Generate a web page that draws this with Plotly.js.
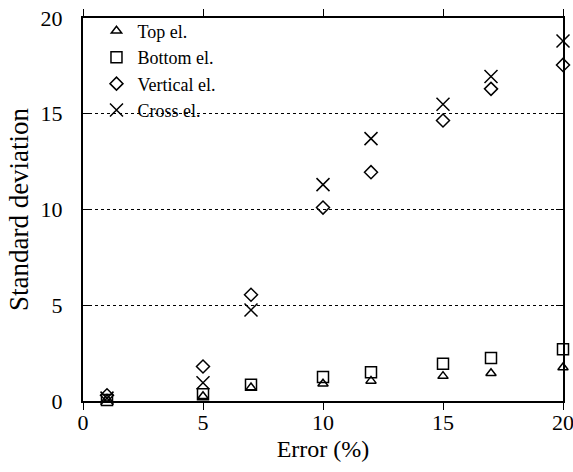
<!DOCTYPE html>
<html>
<head>
<meta charset="utf-8">
<script src="https://cdn.plot.ly/plotly-3.0.1.min.js"></script>
<style>html,body{margin:0;padding:0;background:#fff;}#chart{width:573px;height:472px;}</style>
</head>
<body>
<div id="chart"></div>
<script>
const errorPct = [1, 5, 7, 10, 12, 15, 17, 20];
const topEl = [0.1, 0.25, 0.7, 0.9, 1.05, 1.3, 1.45, 1.75];
const bottomEl = [0.05, 0.35, 0.85, 1.25, 1.5, 1.95, 2.25, 2.7];
const verticalEl = [0.3, 1.8, 5.55, 10.1, 11.95, 14.65, 16.3, 17.55];
const crossEl = [0.15, 0.95, 4.75, 11.3, 13.7, 15.5, 16.95, 18.8];
const seriesNames = ["Top el.", "Bottom el.", "Vertical el.", "Cross el."];
const yTicks = [0, 5, 10, 15, 20];
const xTicks = [0, 5, 10, 15, 20];

const symbols = ["triangle-up-open", "square-open", "diamond-open", "x-thin-open"];
const sizes = [9, 11, 10, 13];
const ys = [topEl, bottomEl, verticalEl, crossEl];

const traces = ys.map((y, i) => ({
  x: errorPct, y: y, name: seriesNames[i], type: "scatter", mode: "markers",
  cliponaxis: false,
  marker: {symbol: symbols[i], size: sizes[i], color: "#000", line: {color: "#000", width: 1.5}}
}));

const FAM = "Liberation Serif";
const f = (s) => ({family: FAM, size: s, color: "#000"});

const layout = {
  width: 573, height: 472,
  margin: {l: 83, r: 10, t: 18, b: 71},
  paper_bgcolor: "#fff", plot_bgcolor: "#fff",
  font: f(20),
  showlegend: true,
  legend: {x: 0.026, y: 1.014, xanchor: "left", yanchor: "top", bgcolor: "rgba(0,0,0,0)",
    font: f(18), itemwidth: 32},
  xaxis: {
    range: [0, 20], tickvals: xTicks, ticks: "outside", ticklen: 7, tickwidth: 1, tickcolor: "#000",
    showline: true, linecolor: "#000", linewidth: 2, mirror: "ticks", showgrid: false, zeroline: false,
    tickfont: f(22), ticklabelstandoff: -6, ticklabeloverflow: "allow",
    title: {text: "Error (%)", font: f(24), standoff: 6}
  },
  yaxis: {
    range: [0, 20], tickvals: yTicks, ticks: "inside", ticklen: 7, tickwidth: 1, tickcolor: "#000",
    showline: true, linecolor: "#000", linewidth: 2, mirror: "ticks",
    showgrid: true, gridcolor: "#000", gridwidth: 1, griddash: "dot", zeroline: false,
    tickfont: f(22), ticklabelstandoff: 14, ticklabeloverflow: "allow",
    title: {text: "Standard deviation", font: f(27), standoff: 4}
  }
};

Plotly.newPlot("chart", traces, layout, {displayModeBar: false, staticPlot: true});
</script>
</body>
</html>
